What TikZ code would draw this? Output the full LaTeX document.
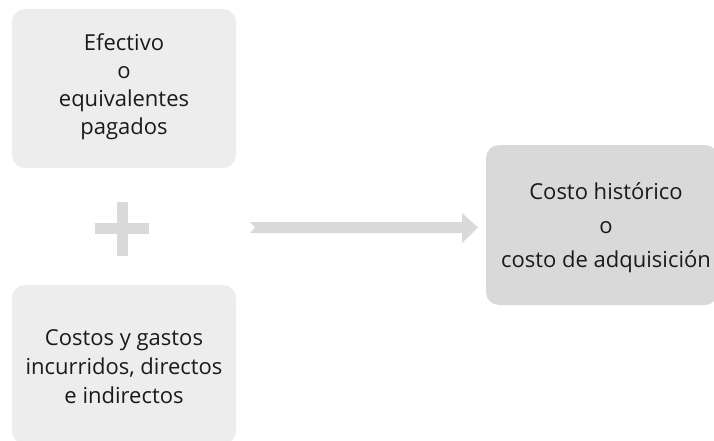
\documentclass[tikz,border=0pt]{standalone}
\usepackage{fontspec}
\setmainfont{Open Sans}
\definecolor{boxlight}{HTML}{EDEDED}
\definecolor{boxdark}{HTML}{D9D9D9}
\definecolor{txt}{HTML}{1A1A1A}
\begin{document}
\begin{tikzpicture}[x=1pt,y=-1pt,
  card/.style={rounded corners=13pt, inner sep=0pt, align=center, text=txt,
    font=\fontsize{22}{28}\selectfont},
  glyphfill/.style={fill=boxdark, draw=none}]
\useasboundingbox (0,0) rectangle (714,441);
\fill[card, fill=boxlight] (12,9) rectangle (236,168);
\node[card] (a) at (124,87) {Efectivo\\o\\equivalentes\\pagados};
\fill[card, fill=boxlight] (12,285) rectangle (236,444);
\node[card, font=\fontsize{22}{29}\selectfont] (b) at (124,367) {Costos y gastos\\incurridos, directos\\e indirectos};
\fill[card, fill=boxdark] (486,145) rectangle (718,305);
\node[card, font=\fontsize{22}{34}\selectfont] (c) at (606,228) {Costo histórico\\o\\costo de adquisición};
% plus sign
\fill[glyphfill] (95,223) rectangle (149,234);
\fill[glyphfill] (117,202) rectangle (128,256);
% arrow
\coordinate (t) at (250,227.5);
\coordinate (h) at (478,227.5);
\fill[glyphfill] (250,222) -- (462,222) -- (462,213) -- (h) -- (462,243) -- (462,233) -- (250,233) -- (255,227.5) -- cycle;
\end{tikzpicture}
\end{document}
